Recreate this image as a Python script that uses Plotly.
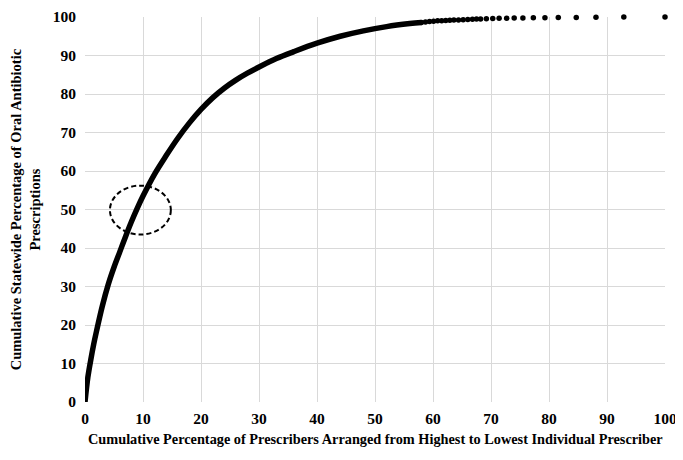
import plotly.graph_objects as go

# Dense part of the cumulative curve (drawn as a thick continuous line)
curve_x = [0, 0.5, 1, 1.5, 2, 3, 4, 5, 6, 7, 8, 9, 10, 12, 14, 16, 18, 20, 22, 24, 26, 28, 30,
           33, 36, 40, 44, 48, 52, 56, 58]
curve_y = [0, 6.5, 11, 15, 18.5, 25, 30.5, 35, 39, 43, 46.8, 50.3, 53.5, 59.2, 64, 68.5, 72.5,
           76, 79, 81.5, 83.6, 85.4, 87, 89.2, 91, 93.2, 95, 96.4, 97.5, 98.3, 98.6]

# Individual prescriber points in the flat tail
tail_x = [58.0, 58.7, 59.4, 60.1, 60.8, 61.5, 62.2, 62.9, 63.6, 64.4, 65.2, 66.0, 66.8, 67.5,
          68.2, 69.2, 70.3, 71.4, 72.7, 74.0, 75.5, 77.3, 79.3, 81.6, 84.7, 88.1, 92.9, 100.0]
tail_y = [98.6, 98.7, 98.8, 98.9, 99.0, 99.05, 99.1, 99.15, 99.2, 99.25, 99.3, 99.35, 99.4, 99.45,
          99.5, 99.55, 99.6, 99.65, 99.7, 99.72, 99.75, 99.8, 99.83, 99.86, 99.9, 99.93, 99.97, 100.0]

tick_vals = [0, 10, 20, 30, 40, 50, 60, 70, 80, 90, 100]
tick_text = [str(v) for v in tick_vals]

x_title = "Cumulative Percentage of Prescribers Arranged from Highest to Lowest Individual Prescriber"
y_title = "Cumulative Statewide Percentage of Oral Antibiotic<br>Prescriptions"

# Highlight ellipse around the 10% / 50% point
ellipse_x = [4.3, 14.8]
ellipse_y = [43.5, 56.2]

FONT = "Liberation Serif"

fig = go.Figure()
fig.add_trace(go.Scatter(x=curve_x, y=curve_y, mode="lines",
                         line=dict(color="black", width=5.5, shape="spline"),
                         showlegend=False, hoverinfo="skip"))
fig.add_trace(go.Scatter(x=tail_x, y=tail_y, mode="markers",
                         marker=dict(color="black", size=5.5),
                         showlegend=False, cliponaxis=False))

fig.add_shape(type="circle", xref="x", yref="y",
              x0=ellipse_x[0], x1=ellipse_x[1], y0=ellipse_y[0], y1=ellipse_y[1],
              line=dict(color="black", width=2, dash="5px,3px"))

fig.update_xaxes(range=[0, 100], tickvals=tick_vals, ticktext=tick_text,
                 showgrid=True, gridcolor="#d9d9d9", gridwidth=1,
                 zeroline=False, showline=False, ticks="", automargin=False,
                 ticklabelstandoff=5,
                 tickfont=dict(family=FONT, size=15.5, color="black", weight="bold"))
fig.update_yaxes(range=[0, 100], tickvals=tick_vals, ticktext=tick_text,
                 showgrid=True, gridcolor="#d9d9d9", gridwidth=1,
                 zeroline=False, showline=False, ticks="", automargin=False,
                 ticklabelstandoff=8,
                 tickfont=dict(family=FONT, size=15.5, color="black", weight="bold"))

fig.add_annotation(text=x_title, xref="paper", yref="paper", x=0.5, y=-0.097,
                   xanchor="center", yanchor="middle", showarrow=False,
                   font=dict(family=FONT, size=14.3, color="black", weight="bold"))
fig.add_annotation(text=y_title, xref="paper", yref="paper", x=-0.102, y=0.5,
                   xanchor="center", yanchor="middle", showarrow=False, textangle=-90,
                   font=dict(family=FONT, size=14.5, color="black", weight="bold"))

# the page body adds an 8px offset, so the figure is sized to compensate
fig.update_layout(width=675, height=452,
                  margin=dict(l=77, r=18, t=9, b=58),
                  paper_bgcolor="white", plot_bgcolor="white")

fig.write_html("out.html")
